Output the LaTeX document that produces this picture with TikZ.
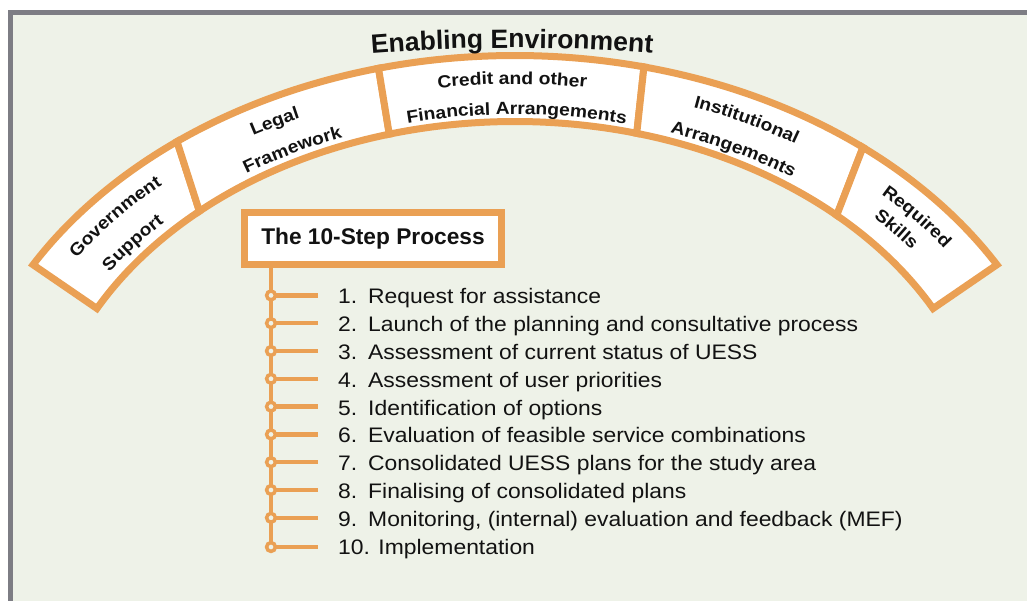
\documentclass[tikz,border=0pt]{standalone}
\usepackage{fontspec}
\setmainfont{Liberation Sans}
\newfontfamily\stepfont[FakeStretch=1.09]{Liberation Sans}
\newfontfamily\labfont[FakeStretch=1.1]{Liberation Sans}
\usetikzlibrary{calc,decorations.text}
\definecolor{bgc}{RGB}{238,242,232}
\definecolor{org}{RGB}{234,160,84}
\definecolor{frm}{RGB}{125,125,132}
\definecolor{txt}{RGB}{18,18,18}
\newcommand\lblfmt{\color{txt}\labfont\bfseries\fontsize{17.5}{17.5}\selectfont}
\newcommand\ttlfmt{\color{txt}\bfseries\fontsize{26.5}{26.5}\selectfont}
% band segment: outer start, outer end, inner end, inner start
\newcommand\bandseg[4]{%
  \draw[seg] ($(C)+(#1:556.5pt and 418.5pt)$)
    arc[start angle=#1, end angle=#2, x radius=556.5pt, y radius=418.5pt]
    -- ($(C)+(#3:473.5pt and 352.5pt)$)
    arc[start angle=#3, end angle=#4, x radius=473.5pt, y radius=352.5pt]
    -- cycle;}
% curved label: centre angle, x radius, y radius, text
\newcommand\curvlab[4]{%
  \path[decorate, decoration={text along path, text align=center, text={|\lblfmt|#4}}]
    ($(C)+({#1+16}:#2pt and #3pt)$)
    arc[start angle={#1+16}, end angle={#1-16}, x radius=#2pt, y radius=#3pt];}
\tikzset{
  seg/.style={fill=white, draw=org, line width=7pt, line join=miter},
  stem/.style={draw=org, line width=4.5pt},
  dot/.style={circle, draw=org, fill=bgc, line width=3.5pt, minimum size=8.8pt, inner sep=0pt},
  item/.style={anchor=base west, inner sep=0pt, text=txt, font=\stepfont\fontsize{21}{21}\selectfont},
  titlebox/.style={draw=org, line width=7pt, fill=white, minimum width=257pt, minimum height=52pt,
    inner sep=0pt, text=txt, font=\bfseries\fontsize{22.7}{22.7}\selectfont}
}
\begin{document}
\begin{tikzpicture}[x=1pt, y=1pt]
\useasboundingbox (0,0) rectangle (1027,601);
% frame
\fill[white] (0,0) rectangle (1027,601);
\fill[bgc] (10,0) rectangle (1027,588.5);
\draw[frm, line width=5pt, line join=miter] (10,-3) -- (10,588.5) -- (1030,588.5);

% band
\coordinate (C) at (515,127);
\bandseg{150}{127.4}{131.8}{152}
\bandseg{127.4}{104.2}{105.4}{131.8}
\bandseg{104.2}{76.6}{75.1}{105.4}
\bandseg{76.6}{51.3}{47.2}{75.1}
\bandseg{51.3}{30}{28}{47.2}

% title
\coordinate (TC) at (512,-1247);
\path[decorate, decoration={text along path, text align=center, text={|\ttlfmt|Enabling Environment}}]
  ($(TC)+(97:1800pt)$) arc[start angle=97, end angle=83, radius=1800pt];

% labels
\curvlab{139.8}{526}{390}{Government}
\curvlab{141.4}{490}{359.5}{Support}
\curvlab{117.4}{526}{390}{Legal}
\curvlab{117.3}{490}{359.5}{Framework}
\curvlab{90.3}{526}{390}{Credit and other}
\curvlab{89.8}{490}{359.5}{Financial Arrangements}
\curvlab{63.6}{526}{390}{Institutional}
\curvlab{63.2}{490}{359.5}{Arrangements}
\curvlab{40}{526}{390}{Required}
\curvlab{40.2}{500}{368}{Skills}

% 10-step box
\node[titlebox] (tbox) at (373,362.5) {The 10-Step Process};

% step dots
\coordinate (c1) at (271,305.6);
\coordinate (c2) at (271,277.8);
\coordinate (c3) at (271,250);
\coordinate (c4) at (271,222.2);
\coordinate (c5) at (271,194.4);
\coordinate (c6) at (271,166.6);
\coordinate (c7) at (271,138.8);
\coordinate (c8) at (271,111);
\coordinate (c9) at (271,83.2);
\coordinate (c10) at (271,54);
\draw[stem] (tbox.south -| c1) -- (c10);
\foreach \k in {1,...,10}{
  \coordinate (e\k) at ($(c\k)+(47,0)$);
  \draw[stem] (c\k) -- (e\k);
  \node[dot] (d\k) at (c\k) {};
}

% step texts
\node[item] (s1) at (338,297) {\makebox[30pt][l]{1.}Request for assistance};
\node[item] (s2) at (338,269.2) {\makebox[30pt][l]{2.}Launch of the planning and consultative process};
\node[item] (s3) at (338,241.4) {\makebox[30pt][l]{3.}Assessment of current status of UESS};
\node[item] (s4) at (338,213.6) {\makebox[30pt][l]{4.}Assessment of user priorities};
\node[item] (s5) at (338,185.8) {\makebox[30pt][l]{5.}Identification of options};
\node[item] (s6) at (338,158) {\makebox[30pt][l]{6.}Evaluation of feasible service combinations};
\node[item] (s7) at (338,130.2) {\makebox[30pt][l]{7.}Consolidated UESS plans for the study area};
\node[item] (s8) at (338,102.4) {\makebox[30pt][l]{8.}Finalising of consolidated plans};
\node[item] (s9) at (338,74.6) {\makebox[30pt][l]{9.}Monitoring, (internal) evaluation and feedback (MEF)};
\node[item] (s10) at (338,46.8) {10. Implementation};
\end{tikzpicture}
\end{document}
